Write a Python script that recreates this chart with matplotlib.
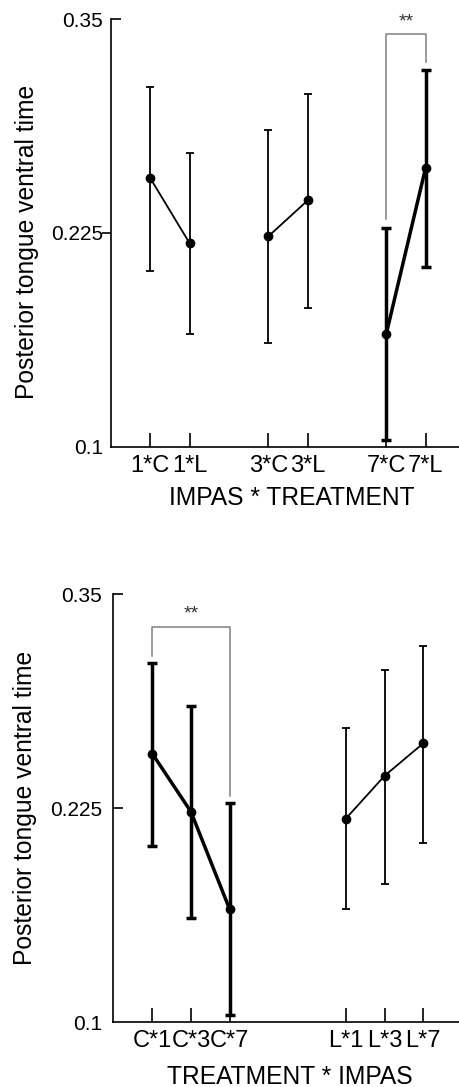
import numpy as np
import matplotlib
matplotlib.use("Agg")
import matplotlib.pyplot as plt
import matplotlib.lines as mlines

plt.rcParams['font.family'] = ['Liberation Sans', 'DejaVu Sans']

# Means and error bar limits
impas = ['1', '3', '7']
treat = ['C', 'L']
mean_C = [0.257, 0.223, 0.166]
upper_C = [0.310, 0.285, 0.228]
lower_C = [0.203, 0.161, 0.104]
mean_L = [0.219, 0.244, 0.263]
upper_L = [0.272, 0.306, 0.320]
lower_L = [0.166, 0.181, 0.205]

yticks = [0.1, 0.225, 0.35]
ytick_labels = ['0.1', '0.225', '0.35']
ylabel = 'Posterior tongue ventral time'

THIN, BOLD = 1.3, 2.5


def draw_group(ax, x, m, lo, hi, bold):
    m = np.array(m)
    lw = BOLD if bold else THIN
    ax.errorbar(x, m, yerr=[m - np.array(lo), np.array(hi) - m], fmt='o-',
                color='black', lw=lw, elinewidth=lw, capthick=lw,
                capsize=3.8 if bold else 3.2, markersize=6, zorder=3)


def bracket(ax, x1, x2, y1, y2, top, star_y):
    ax.plot([x1, x1, x2, x2], [y1, top, top, y2], color='#808080', lw=1.1,
            zorder=2, clip_on=False)
    ax.text((x1 + x2) / 2, star_y, '**', ha='center', va='center',
            fontsize=14, color='#333333')


def style(ax, xlim, pad_y):
    ax.set_ylim(0.1, 0.35)
    ax.set_xlim(*xlim)
    ax.spines['top'].set_visible(False)
    ax.spines['right'].set_visible(False)
    for s in ('left', 'bottom'):
        ax.spines[s].set_linewidth(1.2)
    ax.set_yticks(yticks)
    ax.set_yticklabels(ytick_labels, fontsize=15)
    ax.tick_params(axis='y', direction='in', length=7.2, width=1.2, pad=pad_y)
    ax.tick_params(axis='x', direction='in', length=10, width=1.2, pad=5.5,
                   labelsize=17)


fig = plt.figure(figsize=(4.59, 10.87), dpi=100)

# ---- top panel: IMPAS * TREATMENT ----
ax1 = fig.add_axes([0.2418, 0.5888, 0.7582, 0.3937])
style(ax1, (-1.0, 7.85), 5.6)
for i in range(3):
    xs = [3 * i, 3 * i + 1]
    draw_group(ax1, xs, [mean_C[i], mean_L[i]], [lower_C[i], lower_L[i]],
               [upper_C[i], upper_L[i]], bold=(i == 2))
ax1.set_xticks([3 * i + j for i in range(3) for j in range(2)])
ax1.set_xticklabels([f'{a}*{t}' for a in impas for t in treat])
bracket(ax1, 6, 7, upper_C[2] + 0.005, upper_L[2] + 0.005, 0.341, 0.348)
ax1.set_xlabel('IMPAS * TREATMENT', fontsize=17.7)
ax1.xaxis.set_label_coords(0.519, -0.092)
ax1.set_ylabel(ylabel, fontsize=17.7)
ax1.yaxis.set_label_coords(-0.206, 0.48)

# ---- bottom panel: TREATMENT * IMPAS ----
ax2 = fig.add_axes([0.2455, 0.0595, 0.7545, 0.3938])
style(ax2, (-1.02, 7.92), 7.8)
draw_group(ax2, [0, 1, 2], mean_C, lower_C, upper_C, bold=True)
draw_group(ax2, [5, 6, 7], mean_L, lower_L, upper_L, bold=False)
ax2.set_xticks([0, 1, 2, 5, 6, 7])
ax2.set_xticklabels([f'{t}*{a}' for t in treat for a in impas])
bracket(ax2, 0, 2, upper_C[0] + 0.004, upper_C[2] + 0.004, 0.331, 0.3385)
ax2.set_xlabel('TREATMENT * IMPAS', fontsize=17.7)
ax2.xaxis.set_label_coords(0.512, -0.099)
ax2.set_ylabel(ylabel, fontsize=17.7)
ax2.yaxis.set_label_coords(-0.219, 0.5)

# top panel: the 0.225 tick points outward
fig.canvas.draw()
for t, v in zip(ax1.yaxis.get_major_ticks(), yticks):
    if v == 0.225:
        t.tick1line.set_marker(mlines.TICKLEFT)
        t.tick1line.set_markersize(6.5)
    if v == 0.1:
        t.tick1line.set_visible(False)
ax2.yaxis.get_major_ticks()[0].tick1line.set_visible(False)

fig.savefig('out.png', dpi=100)
